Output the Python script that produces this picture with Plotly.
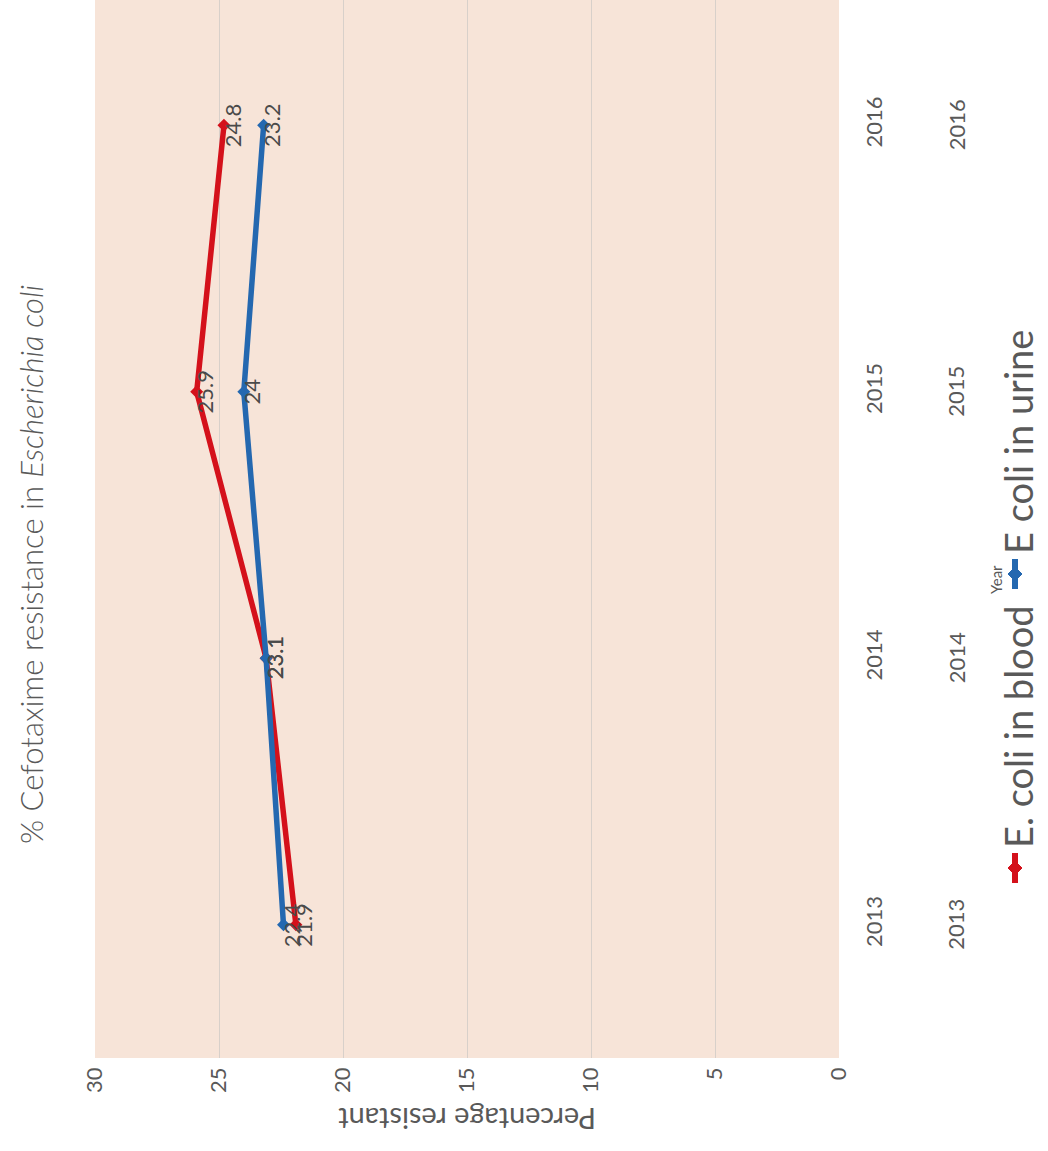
import plotly.graph_objects as go

# Data
years = ["2013", "2014", "2015", "2016"]
blood = [21.9, 23.1, 25.9, 24.8]
urine = [22.4, 23.1, 24.0, 23.2]
series_names = ["E. coli in blood", "E coli in urine"]
value_ticks = [0, 5, 10, 15, 20, 25, 30]

RED = "#d4111b"
BLUE = "#2468b0"
GREY = "#595959"
LABEL = "#4a4a4a"
FONT = "Lato"

W, H = 1048, 1151
L, R, T, B = 95, 839, 0, 1058  # plot area in pixels


def px(x):
    return (x - L) / (R - L)


def py(y):
    return (B - y) / (B - T)


idx = list(range(len(years)))

fig = go.Figure()
for vals, color in ((blood, RED), (urine, BLUE)):
    fig.add_trace(go.Scatter(
        x=vals, y=idx, mode="lines+markers",
        line=dict(color=color, width=5.5),
        marker=dict(symbol="diamond", size=10, color=color),
        showlegend=False, hoverinfo="skip",
    ))

annotations = []
# data labels, rotated with the chart
for vals in (blood, urine):
    for i, v in enumerate(vals):
        annotations.append(dict(
            x=v, y=i, xref="x", yref="y", text=f"{v:g}", showarrow=False,
            textangle=-90, xshift=8, font=dict(family=FONT, size=22, color=LABEL),
        ))

# second column of year labels
for i, yr in enumerate(years):
    annotations.append(dict(
        x=px(956), y=i, xref="paper", yref="y", text=yr, showarrow=False,
        textangle=-90, xanchor="center", yanchor="middle",
        font=dict(family=FONT, size=22, color=GREY),
    ))

# title
annotations.append(dict(
    x=px(31), y=py(565), xref="paper", yref="paper",
    text="% Cefotaxime resistance in <i>Escherichia coli</i>", showarrow=False,
    textangle=-90, xanchor="center", yanchor="middle",
    font=dict(family=FONT, size=31, color=GREY, weight=300),
))
# value-axis title
annotations.append(dict(
    x=px(467), y=py(1120), xref="paper", yref="paper",
    text="Percentage resistant", showarrow=False, textangle=180,
    xanchor="center", yanchor="middle",
    font=dict(family=FONT, size=29, color=GREY),
))
# category-axis title
annotations.append(dict(
    x=px(996), y=py(580), xref="paper", yref="paper", text="Year",
    showarrow=False, textangle=-90, xanchor="center", yanchor="middle",
    font=dict(family=FONT, size=15, color=GREY),
))

# legend
shapes = []
legend_items = [(series_names[0], RED, 868, 850), (series_names[1], BLUE, 574, 556)]
for name, color, ym, ytext in legend_items:
    shapes.append(dict(type="line", xref="paper", yref="paper",
                       x0=px(1015), x1=px(1015), y0=py(ym + 15), y1=py(ym - 15),
                       line=dict(color=color, width=6)))
    shapes.append(dict(type="path", xref="paper", yref="paper",
                       path=(f"M {px(1008)},{py(ym)} L {px(1015)},{py(ym - 7)} "
                             f"L {px(1022)},{py(ym)} L {px(1015)},{py(ym + 7)} Z"),
                       fillcolor=color, line=dict(color=color, width=1)))
    annotations.append(dict(
        x=px(1018), y=py(ytext), xref="paper", yref="paper", text=name,
        showarrow=False, textangle=-90, xanchor="center", yanchor="bottom",
        font=dict(family=FONT, size=38, color=GREY),
    ))

fig.update_layout(
    width=W, height=H,
    margin=dict(l=L, r=W - R, t=T, b=H - B),
    paper_bgcolor="white", plot_bgcolor="#f7e4d8",
    font=dict(family=FONT, color=GREY),
    xaxis=dict(range=[30, 0], tickvals=value_ticks, ticktext=[str(v) for v in value_ticks],
               tickangle=-90, showgrid=True, gridcolor="#d8d0ca", gridwidth=1,
               zeroline=False, showline=False, ticks="", ticklabelstandoff=4,
               tickfont=dict(family=FONT, size=22, color=GREY)),
    yaxis=dict(range=[-0.5, 3.47], tickvals=idx, ticktext=years, side="right",
               tickangle=-90, showgrid=False, zeroline=False, showline=False, ticks="",
               ticklabelstandoff=20, tickfont=dict(family=FONT, size=22, color=GREY)),
    annotations=annotations, shapes=shapes,
)

fig.write_html("out.html")
